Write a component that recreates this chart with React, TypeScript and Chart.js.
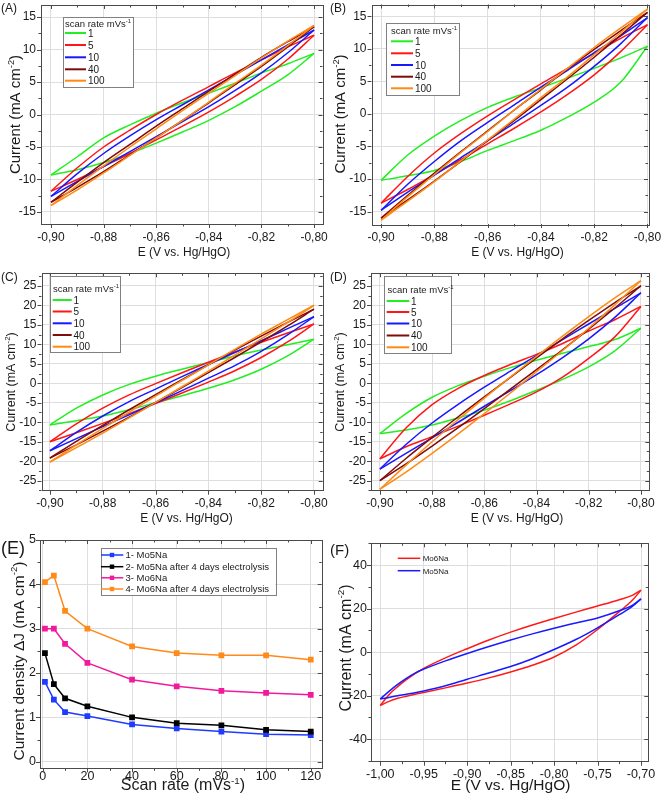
import { useEffect, useRef } from 'react';
import { Chart, registerables } from 'chart.js';

Chart.register(...registerables);

const FONT = "'Liberation Sans', Arial, Helvetica, sans-serif";
const PAGE_W = 662;
const PAGE_H = 798;
const OFF = 30;
const CW = PAGE_W + 2 * OFF;
const CH = PAGE_H + 2 * OFF;

const AXIS_COLOR = '#4a4a4a';
const GRID_COLOR = '#dedede';
const TEXT_COLOR = '#1a1a1a';

// ---------------- data ----------------
const CV_E = [-0.9, -0.89, -0.88, -0.87, -0.86, -0.85, -0.84, -0.83, -0.82, -0.81, -0.8];
const SCAN_RATES = ['1', '5', '10', '40', '100'];
const SCAN_COLORS = ['#22ee22', '#ff1616', '#1818ff', '#7f0b0b', '#ff8a14'];

// Panel A
const A1_UP = [-9.3, -6.5, -3.6, -1.6, 0.2, 1.8, 3.3, 4.8, 6.4, 7.8, 9.4];
const A1_LO = [-9.3, -8.5, -7.4, -6.0, -4.4, -2.7, -0.9, 1.2, 3.6, 6.1, 9.4];
const A5_UP = [-11.8, -8.2, -5.0, -2.4, 0.0, 2.2, 4.3, 6.4, 8.4, 10.4, 12.2];
const A5_LO = [-11.8, -10.0, -8.0, -6.0, -3.9, -1.8, 0.4, 2.8, 5.4, 8.5, 12.2];
const A10_UP = [-12.6, -9.1, -6.0, -3.3, -0.8, 1.5, 3.8, 6.1, 8.4, 10.7, 13.0];
const A10_LO = [-12.6, -10.3, -8.0, -5.7, -3.4, -1.1, 1.2, 3.7, 6.4, 9.5, 13.0];
const A40_UP = [-13.5, -10.4, -7.4, -4.6, -1.8, 0.9, 3.6, 6.2, 8.8, 11.2, 13.5];
const A40_LO = [-13.5, -11.2, -8.8, -6.2, -3.6, -0.9, 1.8, 4.6, 7.4, 10.4, 13.5];
const A100_UP = [-14.0, -10.9, -7.9, -5.0, -2.2, 0.6, 3.3, 6.0, 8.7, 11.3, 13.7];
const A100_LO = [-14.0, -11.6, -9.0, -6.3, -3.6, -0.9, 1.9, 4.8, 7.6, 10.6, 13.7];

// Panel B
const B1_UP = [-10.2, -6.3, -3.4, -1.0, 1.0, 2.6, 4.0, 5.5, 7.0, 8.6, 10.4];
const B1_LO = [-10.2, -9.5, -8.7, -7.3, -5.6, -4.1, -2.5, -0.5, 1.8, 4.9, 10.4];
const B5_UP = [-13.7, -9.6, -6.0, -3.0, -0.3, 2.2, 4.6, 7.0, 9.3, 11.6, 13.7];
const B5_LO = [-13.7, -11.6, -9.3, -7.0, -4.6, -2.2, 0.3, 3.0, 6.0, 9.6, 13.7];
const B10_UP = [-14.8, -10.8, -7.3, -4.1, -1.3, 1.4, 4.1, 6.7, 9.4, 12.0, 14.8];
const B10_LO = [-14.8, -12.0, -9.4, -6.7, -4.1, -1.4, 1.3, 4.1, 7.3, 10.8, 14.8];
const B40_UP = [-16.0, -12.5, -9.1, -5.8, -2.6, 0.6, 3.7, 6.9, 9.9, 12.8, 15.6];
const B40_LO = [-16.0, -13.2, -10.3, -7.3, -4.1, -1.0, 2.2, 5.4, 8.7, 12.1, 15.6];
const B100_UP = [-16.3, -12.7, -9.3, -5.9, -2.7, 0.6, 3.8, 7.0, 10.2, 13.2, 16.1];
const B100_LO = [-16.3, -13.4, -10.4, -7.2, -4.0, -0.8, 2.5, 5.7, 9.1, 12.5, 16.1];

// Panel C
const C1_UP = [-10.7, -6.4, -3.0, -0.3, 1.8, 3.6, 5.3, 7.0, 8.5, 9.9, 11.3];
const C1_LO = [-10.7, -9.6, -8.4, -6.8, -5.0, -3.2, -1.3, 0.9, 3.6, 7.0, 11.3];
const C5_UP = [-15.0, -10.4, -6.4, -3.0, -0.1, 2.7, 5.4, 8.0, 10.5, 12.9, 15.2];
const C5_LO = [-15.0, -12.7, -10.3, -7.8, -5.2, -2.5, 0.3, 3.2, 6.6, 10.6, 15.2];
const C10_UP = [-17.3, -12.6, -8.4, -4.7, -1.5, 1.7, 4.8, 7.9, 10.9, 14.0, 17.1];
const C10_LO = [-17.3, -14.2, -11.1, -8.1, -5.0, -1.9, 1.3, 4.5, 8.2, 12.4, 17.1];
const C40_UP = [-19.2, -14.9, -10.8, -6.8, -2.9, 0.9, 4.7, 8.5, 12.1, 15.6, 19.0];
const C40_LO = [-19.2, -15.8, -12.3, -8.7, -4.9, -1.1, 2.7, 6.6, 10.6, 14.7, 19.0];
const C100_UP = [-20.2, -15.8, -11.6, -7.4, -3.3, 0.7, 4.7, 8.7, 12.6, 16.3, 20.0];
const C100_LO = [-20.2, -16.5, -12.8, -8.9, -4.9, -0.9, 3.1, 7.2, 11.4, 15.6, 20.0];

// Panel D
const D1_UP = [-12.9, -7.8, -3.6, -0.6, 1.8, 4.0, 5.9, 7.7, 9.4, 11.2, 14.1];
const D1_LO = [-12.9, -12.0, -10.7, -8.9, -6.9, -4.5, -1.8, 1.0, 4.2, 8.3, 14.1];
const D5_UP = [-19.4, -11.5, -5.5, -1.3, 2.0, 4.8, 7.4, 10.2, 13.4, 16.3, 19.7];
const D5_LO = [-19.4, -16.3, -13.7, -11.0, -8.2, -5.3, -2.2, 1.6, 6.4, 11.9, 19.7];
const D10_UP = [-22.0, -15.7, -10.2, -5.4, -1.0, 3.1, 7.1, 11.2, 15.2, 19.2, 23.2];
const D10_LO = [-22.0, -18.0, -14.0, -10.0, -5.9, -1.9, 2.2, 6.6, 11.4, 16.9, 23.2];
const D40_UP = [-25.0, -19.3, -13.9, -8.6, -3.5, 1.5, 6.5, 11.4, 16.1, 20.7, 25.0];
const D40_LO = [-25.0, -20.7, -16.1, -11.4, -6.5, -1.5, 3.5, 8.6, 13.9, 19.3, 25.0];
const D100_UP = [-27.2, -21.0, -15.0, -9.3, -3.8, 1.6, 6.9, 12.1, 17.1, 21.9, 26.3];
const D100_LO = [-27.2, -22.8, -18.0, -13.0, -7.8, -2.5, 3.0, 8.4, 14.1, 20.1, 26.3];

// Panel E
const E_RATES = [1, 5, 10, 20, 40, 60, 80, 100, 120];
const E_MO5NA = [1.8, 1.4, 1.12, 1.03, 0.84, 0.75, 0.68, 0.62, 0.6];
const E_MO5NA_AFTER = [2.45, 1.75, 1.43, 1.25, 1.0, 0.87, 0.82, 0.72, 0.68];
const E_MO6NA = [3.0, 3.0, 2.66, 2.23, 1.85, 1.7, 1.6, 1.55, 1.51];
const E_MO6NA_AFTER = [4.05, 4.2, 3.4, 3.0, 2.6, 2.45, 2.4, 2.4, 2.3];
const E_LABELS = ['1- Mo5Na', '2- Mo5Na after 4 days electrolysis', '3- Mo6Na', '4- Mo6Na after 4 days electrolysis'];
const E_COLORS = ['#1f3bff', '#000000', '#f21a9c', '#ff8a1a'];

// Panel F
const F_E = [-1.0, -0.99, -0.98, -0.97, -0.96, -0.95, -0.925, -0.9, -0.875, -0.85, -0.825, -0.8, -0.775, -0.75, -0.725, -0.71, -0.7];
const F_MO6NA_UP = [-24.5, -19.5, -15.8, -12.6, -9.8, -7.4, -2.6, 1.6, 5.6, 9.2, 12.5, 15.5, 18.4, 21.2, 24.1, 26.1, 28.5];
const F_MO6NA_LO = [-24.5, -22.6, -21.2, -20.2, -19.3, -18.5, -16.4, -14.2, -11.8, -9.1, -6.0, -2.2, 3.2, 10.4, 18.6, 23.8, 28.5];
const F_MO5NA_UP = [-21.5, -18.0, -14.8, -12.0, -9.6, -7.8, -4.0, -0.6, 2.6, 5.6, 8.4, 11.0, 13.4, 15.7, 19.0, 21.5, 24.5];
const F_MO5NA_LO = [-21.5, -20.8, -20.0, -19.3, -18.6, -17.8, -15.4, -12.4, -9.6, -6.6, -3.0, 1.2, 5.8, 11.2, 17.2, 21.0, 24.5];
const F_LABELS = ['Mo6Na', 'Mo5Na'];
const F_COLORS = ['#ff1a1a', '#1a1aff'];

// ---------------- helpers ----------------
function branch(xs: number[], ys: number[], color: string) {
  return {
    data: xs.map((x, j) => ({ x, y: ys[j] })),
    borderColor: color,
    backgroundColor: color,
    borderWidth: 1.5,
    pointRadius: 0,
    showLine: true,
    fill: false,
    cubicInterpolationMode: 'monotone',
  };
}

function cvSets(ups: number[][], los: number[][]) {
  const sets: any[] = [];
  for (let i = ups.length - 1; i >= 0; i--) {
    sets.push(branch(CV_E, ups[i], SCAN_COLORS[i]));
    sets.push(branch(CV_E, los[i], SCAN_COLORS[i]));
  }
  return sets;
}

type Part = [string, boolean?];

function setFont(ctx: CanvasRenderingContext2D, size: number) {
  ctx.font = `${size}px ${FONT}`;
}

function richWidth(ctx: CanvasRenderingContext2D, parts: Part[], size: number) {
  let w = 0;
  for (const [t, sup] of parts) {
    setFont(ctx, sup ? size * 0.62 : size);
    w += ctx.measureText(t).width;
  }
  return w;
}

function drawRich(ctx: CanvasRenderingContext2D, parts: Part[], x: number, y: number, size: number, align: string, rot = 0) {
  ctx.save();
  ctx.translate(x, y);
  if (rot) ctx.rotate(rot);
  ctx.fillStyle = TEXT_COLOR;
  ctx.textAlign = 'left';
  ctx.textBaseline = 'alphabetic';
  let cx = align === 'center' ? -richWidth(ctx, parts, size) / 2 : 0;
  const base = size * 0.36;
  for (const [t, sup] of parts) {
    const fs = sup ? size * 0.62 : size;
    setFont(ctx, fs);
    ctx.fillText(t, cx, sup ? base - size * 0.42 : base);
    cx += ctx.measureText(t).width;
  }
  ctx.restore();
}

function tickValues(min: number, max: number, step: number) {
  const half = step / 2;
  const out: [number, boolean][] = [];
  const k0 = Math.ceil(min / half - 1e-6);
  const k1 = Math.floor(max / half + 1e-6);
  for (let k = k0; k <= k1; k++) out.push([k * half, Math.abs(k) % 2 === 0]);
  return out;
}

function majorTicks(min: number, max: number, step: number) {
  const out: { value: number }[] = [];
  const k0 = Math.ceil(min / step - 1e-6);
  const k1 = Math.floor(max / step + 1e-6);
  for (let k = k0; k <= k1; k++) out.push({ value: Number((k * step).toFixed(6)) });
  return out;
}

function fmt(v: any, dec: number) {
  let n = Number(v);
  if (Math.abs(n) < 1e-9) n = 0;
  return n.toFixed(dec).replace('.', ',');
}

const CURRENT_TITLE: Part[] = [['Current (mA cm'], ['-2', true], [')']];
const E_TITLE: Part[] = [['E (V vs. Hg/HgO)']];
const SCAN_TITLE: Part[] = [['scan rate mVs'], ['-1', true]];

function cvLegend(box: number[], titleX: number, titleY: number, ys: number[], lineX: number[], textX: number) {
  return {
    box,
    title: SCAN_TITLE,
    titleX,
    titleY,
    titleSize: 9.5,
    size: 10,
    lineW: 2,
    lineX,
    textX,
    items: SCAN_RATES.map((t, i) => ({ text: t, color: SCAN_COLORS[i], y: ys[i] })),
  };
}

const PANELS: any[] = [
  {
    id: 'A',
    label: '(A)', labelPos: [1, 7.5], labelSize: 12,
    plot: [41, 5, 322.5, 224],
    x: { min: -0.9038, max: -0.7968, step: 0.02, dec: 2, font: 12, pad: 6 },
    y: { min: -16.85, max: 16.85, step: 5, dec: 0, font: 12, pad: 5 },
    xTitle: E_TITLE, xTitlePos: [184, 252], xTitleSize: 12,
    yTitle: CURRENT_TITLE, yTitlePos: [14.5, 114.5], yTitleSize: 15,
    legend: cvLegend([63, 17, 133, 87], 65, 23.5, [33, 45, 57.3, 69.3, 80.7], [65, 86], 88),
    datasets: cvSets([A1_UP, A5_UP, A10_UP, A40_UP, A100_UP], [A1_LO, A5_LO, A10_LO, A40_LO, A100_LO]),
  },
  {
    id: 'B',
    label: '(B)', labelPos: [330, 8], labelSize: 12,
    plot: [371.5, 4.5, 648, 224],
    x: { min: -0.9036, max: -0.7998, step: 0.02, dec: 2, font: 12, pad: 6 },
    y: { min: -16.9, max: 16.8, step: 5, dec: 0, font: 12, pad: 5 },
    xTitle: E_TITLE, xTitlePos: [517.5, 252], xTitleSize: 12,
    yTitle: CURRENT_TITLE, yTitlePos: [340, 114], yTitleSize: 15,
    legend: cvLegend([386, 23, 459, 95], 391, 30.7, [41.3, 53.3, 65, 76.7, 88.3], [391, 413], 415),
    datasets: cvSets([B1_UP, B5_UP, B10_UP, B40_UP, B100_UP], [B1_LO, B5_LO, B10_LO, B40_LO, B100_LO]),
  },
  {
    id: 'C',
    label: '(C)', labelPos: [1, 277], labelSize: 12,
    plot: [41.5, 273.3, 322.7, 490.7],
    x: { min: -0.9032, max: -0.7967, step: 0.02, dec: 2, font: 12, pad: 6 },
    y: { min: -27.56, max: 28.2, step: 5, dec: 0, font: 12, pad: 5 },
    xTitle: E_TITLE, xTitlePos: [186.5, 517.5], xTitleSize: 12,
    yTitle: CURRENT_TITLE, yTitlePos: [10.5, 382], yTitleSize: 12.5,
    legend: cvLegend([50, 276, 120, 351.7], 53, 288.3, [300, 311.5, 323.3, 335, 346.7], [52.7, 71.7], 73.5),
    datasets: cvSets([C1_UP, C5_UP, C10_UP, C40_UP, C100_UP], [C1_LO, C5_LO, C10_LO, C40_LO, C100_LO]),
  },
  {
    id: 'D',
    label: '(D)', labelPos: [330, 277], labelSize: 12,
    plot: [371, 273.3, 649.3, 490.7],
    x: { min: -0.9034, max: -0.7968, step: 0.02, dec: 2, font: 12, pad: 6 },
    y: { min: -27.56, max: 28.2, step: 5, dec: 0, font: 12, pad: 5 },
    xTitle: E_TITLE, xTitlePos: [517, 517.5], xTitleSize: 12,
    yTitle: CURRENT_TITLE, yTitlePos: [339.5, 382], yTitleSize: 12.5,
    legend: cvLegend([384.3, 276, 451, 353], 387.5, 289.3, [301, 312, 323.5, 335.5, 347.3], [386.7, 409.3], 411),
    datasets: cvSets([D1_UP, D5_UP, D10_UP, D40_UP, D100_UP], [D1_LO, D5_LO, D10_LO, D40_LO, D100_LO]),
  },
  {
    id: 'E',
    label: '(E)', labelPos: [1, 548], labelSize: 18,
    plot: [40, 540, 321.7, 768.3],
    x: { min: -1.21, max: 124.9, step: 20, dec: 0, font: 12.5, pad: 1 },
    y: { min: -0.149, max: 5.001, step: 1, dec: 0, font: 12.5, pad: 4 },
    xTitle: [['Scan rate (mVs'], ['-1', true], [')']], xTitlePos: [183, 784.5], xTitleSize: 16,
    yTitle: [['Current density \u0394J (mA cm'], ['-2', true], [')']], yTitlePos: [18, 661], yTitleSize: 15.5,
    legend: {
      box: [100.5, 547.7, 275, 595],
      size: 9.5,
      lineW: 1.5,
      lineX: [101, 123.3],
      marker: 112,
      textX: 125.5,
      items: E_LABELS.map((t, i) => ({ text: t, color: E_COLORS[i], y: [555, 566.7, 577.8, 589][i] })),
    },
    datasets: [E_MO6NA_AFTER, E_MO6NA, E_MO5NA_AFTER, E_MO5NA].map((vals, k) => {
      const i = 3 - k;
      return {
        data: E_RATES.map((x, j) => ({ x, y: vals[j] })),
        borderColor: E_COLORS[i],
        backgroundColor: E_COLORS[i],
        pointBackgroundColor: E_COLORS[i],
        pointBorderColor: E_COLORS[i],
        borderWidth: 1.5,
        pointRadius: 3,
        pointStyle: 'rect',
        showLine: true,
        tension: 0,
      };
    }),
  },
  {
    id: 'F',
    label: '(F)', labelPos: [330, 550], labelSize: 15,
    plot: [371, 543.3, 648.3, 761.7],
    x: { min: -1.0107, max: -0.6916, step: 0.05, dec: 2, font: 12.5, pad: 5 },
    y: { min: -50.3, max: 50, step: 20, dec: 0, font: 12.5, pad: 4 },
    xTitle: E_TITLE, xTitlePos: [510.5, 784], xTitleSize: 15.5,
    yTitle: CURRENT_TITLE, yTitlePos: [345, 648], yTitleSize: 16,
    legend: {
      size: 8,
      lineW: 1.5,
      lineX: [397.7, 420.3],
      textX: 422.7,
      items: F_LABELS.map((t, i) => ({ text: t, color: F_COLORS[i], y: [558.3, 570.7][i] })),
    },
    datasets: [
      branch(F_E, F_MO5NA_UP, F_COLORS[1]),
      branch(F_E, F_MO5NA_LO, F_COLORS[1]),
      branch(F_E, F_MO6NA_UP, F_COLORS[0]),
      branch(F_E, F_MO6NA_LO, F_COLORS[0]),
    ],
  },
];

function decorPlugin(p: any) {
  return {
    id: 'decor' + p.id,
    afterDraw(chart: any) {
      const ctx: CanvasRenderingContext2D = chart.ctx;
      const xs = chart.scales.x;
      const ys = chart.scales.y;
      const { left, right, top, bottom } = chart.chartArea;
      ctx.save();
      ctx.strokeStyle = AXIS_COLOR;
      ctx.lineWidth = 1;
      ctx.beginPath();
      for (const [v, major] of tickValues(p.x.min, p.x.max, p.x.step)) {
        const px = Math.round(xs.getPixelForValue(v)) + 0.5;
        const len = major ? 4 : 2.5;
        ctx.moveTo(px, bottom);
        ctx.lineTo(px, bottom + len);
        ctx.moveTo(px, top);
        ctx.lineTo(px, top + len);
      }
      for (const [v, major] of tickValues(p.y.min, p.y.max, p.y.step)) {
        const py = Math.round(ys.getPixelForValue(v)) + 0.5;
        const len = major ? 4 : 2.5;
        ctx.moveTo(left - len, py);
        ctx.lineTo(left, py);
        ctx.moveTo(right, py);
        ctx.lineTo(right - len, py);
      }
      ctx.stroke();
      ctx.strokeRect(Math.round(left) + 0.5, Math.round(top) + 0.5, Math.round(right - left), Math.round(bottom - top));
      ctx.restore();

      ctx.save();
      ctx.translate(OFF, OFF);
      drawRich(ctx, [[p.label]], p.labelPos[0], p.labelPos[1], p.labelSize, 'left');
      drawRich(ctx, p.xTitle, p.xTitlePos[0], p.xTitlePos[1], p.xTitleSize, 'center');
      drawRich(ctx, p.yTitle, p.yTitlePos[0], p.yTitlePos[1], p.yTitleSize, 'center', -Math.PI / 2);

      const L = p.legend;
      if (L.box) {
        const [bl, bt, br, bb] = L.box;
        ctx.fillStyle = '#ffffff';
        ctx.fillRect(bl, bt, br - bl, bb - bt);
        ctx.strokeStyle = '#808080';
        ctx.lineWidth = 1;
        ctx.strokeRect(Math.round(bl) + 0.5, Math.round(bt) + 0.5, Math.round(br - bl), Math.round(bb - bt));
      }
      if (L.title) drawRich(ctx, L.title, L.titleX, L.titleY, L.titleSize, 'left');
      for (const it of L.items) {
        ctx.strokeStyle = it.color;
        ctx.lineWidth = L.lineW;
        ctx.beginPath();
        ctx.moveTo(L.lineX[0], it.y);
        ctx.lineTo(L.lineX[1], it.y);
        ctx.stroke();
        if (L.marker) {
          ctx.fillStyle = it.color;
          ctx.fillRect(L.marker - 2.2, it.y - 2.2, 4.4, 4.4);
        }
        drawRich(ctx, [[it.text]], L.textX, it.y, L.size, 'left');
      }
      ctx.restore();
    },
  };
}

function makeChart(canvas: HTMLCanvasElement, p: any) {
  const Wy = 30;
  const Hx = 20;
  const [l, t, r, b] = p.plot;
  return new Chart(canvas, {
    type: 'scatter',
    data: { datasets: p.datasets },
    options: {
      animation: false,
      responsive: false,
      maintainAspectRatio: false,
      devicePixelRatio: 1,
      events: [],
      layout: {
        padding: { left: l + OFF - Wy, top: t + OFF, right: PAGE_W + OFF - r, bottom: PAGE_H + OFF - b - Hx },
      },
      plugins: { legend: { display: false }, tooltip: { enabled: false } },
      scales: {
        x: {
          type: 'linear',
          position: 'bottom',
          min: p.x.min,
          max: p.x.max,
          afterBuildTicks: (s: any) => { s.ticks = majorTicks(p.x.min, p.x.max, p.x.step); },
          afterFit: (s: any) => { s.height = Hx; },
          grid: { color: GRID_COLOR, drawTicks: false, lineWidth: 1 },
          border: { display: false },
          ticks: {
            autoSkip: false,
            maxRotation: 0,
            padding: p.x.pad,
            color: TEXT_COLOR,
            font: { family: FONT, size: p.x.font },
            callback: (v: any) => fmt(v, p.x.dec),
          },
        },
        y: {
          type: 'linear',
          position: 'left',
          min: p.y.min,
          max: p.y.max,
          afterBuildTicks: (s: any) => { s.ticks = majorTicks(p.y.min, p.y.max, p.y.step); },
          afterFit: (s: any) => { s.width = Wy; },
          grid: { color: GRID_COLOR, drawTicks: false, lineWidth: 1 },
          border: { display: false },
          ticks: {
            autoSkip: false,
            padding: p.y.pad,
            color: TEXT_COLOR,
            font: { family: FONT, size: p.y.font },
            callback: (v: any) => fmt(v, p.y.dec),
          },
        },
      },
    } as any,
    plugins: [decorPlugin(p)],
  });
}

export default function App() {
  const refs = useRef<(HTMLCanvasElement | null)[]>([]);
  useEffect(() => {
    const charts = PANELS.map((p, i) => makeChart(refs.current[i] as HTMLCanvasElement, p));
    return () => charts.forEach((c) => c.destroy());
  }, []);
  return (
    <div style={{ position: 'fixed', left: 0, top: 0, width: PAGE_W, height: PAGE_H, background: '#ffffff', overflow: 'hidden' }}>
      {PANELS.map((p, i) => (
        <canvas
          key={p.id}
          ref={(el) => { refs.current[i] = el; }}
          width={CW}
          height={CH}
          style={{ position: 'absolute', left: -OFF, top: -OFF, width: CW, height: CH }}
        />
      ))}
    </div>
  );
}
